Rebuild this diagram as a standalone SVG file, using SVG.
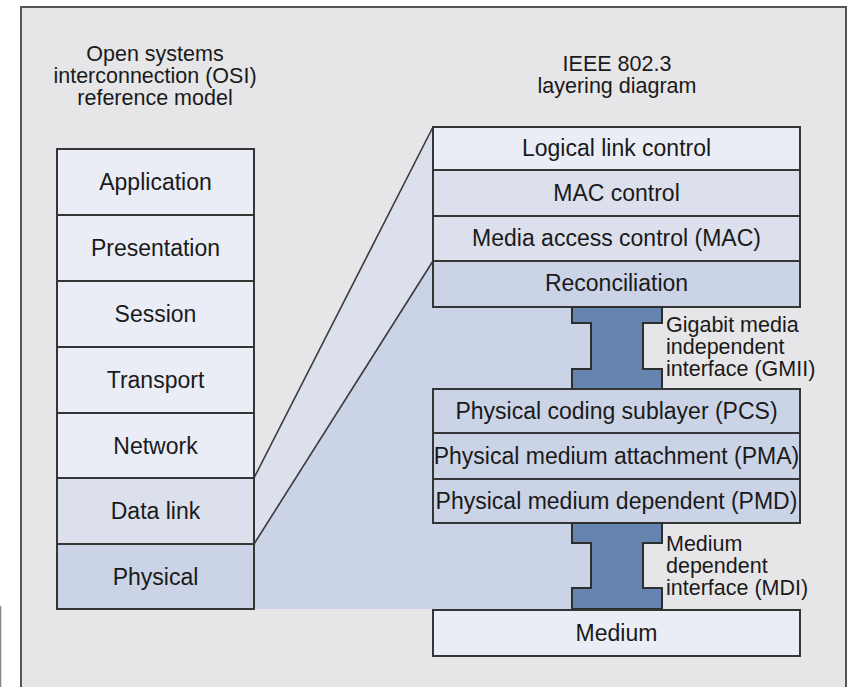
<svg xmlns="http://www.w3.org/2000/svg" width="848" height="687" viewBox="0 0 848 687">
<defs>
<style>
.t{font-family:"Liberation Sans",Arial,sans-serif;font-size:23px;fill:#1a1a1a;text-anchor:middle}
.h{font-family:"Liberation Sans",Arial,sans-serif;font-size:21.5px;fill:#1a1a1a;text-anchor:middle}
.l{font-family:"Liberation Sans",Arial,sans-serif;font-size:21.5px;fill:#1a1a1a;text-anchor:start}
.box{stroke:#353535;stroke-width:2}
.c1{fill:#eaedf6}
.c2{fill:#dbe0ec}
.c3{fill:#cbd3e6}
.beam{fill:#6684b0;stroke:#2e2e2e;stroke-width:2}
.edge{stroke:#3a3a3a;stroke-width:1.6;fill:none}
</style>
</defs>
<rect x="0" y="0" width="848" height="687" fill="#ffffff"/>
<rect x="21" y="7" width="825" height="690" fill="#e6e6e8" stroke="#555" stroke-width="2"/>
<line x1="0.5" y1="606" x2="0.5" y2="687" stroke="#888" stroke-width="1.5"/>

<g id="titles">
<text class="h" x="155" y="61">Open systems</text>
<text class="h" x="155" y="83">interconnection (OSI)</text>
<text class="h" x="155" y="105">reference model</text>
<text class="h" x="617" y="71">IEEE 802.3</text>
<text class="h" x="617" y="93">layering diagram</text>
</g>

<g id="connectors">
<polygon class="c3" points="254,544 433,261 617,261 617,609 254,609"/>
<polygon class="c2" points="254,478 433,127 433,261 254,544"/>
<line class="edge" x1="254" y1="478" x2="433" y2="127"/>
<line class="edge" x1="254" y1="544" x2="433" y2="261"/>
</g>

<g id="osi-application"><rect class="box c1" x="57" y="149" width="197" height="66"/><text class="t" x="155.5" y="190">Application</text></g>
<g id="osi-presentation"><rect class="box c1" x="57" y="215" width="197" height="66"/><text class="t" x="155.5" y="256">Presentation</text></g>
<g id="osi-session"><rect class="box c1" x="57" y="281" width="197" height="66"/><text class="t" x="155.5" y="322">Session</text></g>
<g id="osi-transport"><rect class="box c1" x="57" y="347" width="197" height="66"/><text class="t" x="155.5" y="388">Transport</text></g>
<g id="osi-network"><rect class="box c1" x="57" y="413" width="197" height="65"/><text class="t" x="155.5" y="454">Network</text></g>
<g id="osi-datalink"><rect class="box c2" x="57" y="478" width="197" height="66"/><text class="t" x="155.5" y="519">Data link</text></g>
<g id="osi-physical"><rect class="box c3" x="57" y="544" width="197" height="65"/><text class="t" x="155.5" y="585">Physical</text></g>

<g id="llc"><rect class="box c1" x="433" y="127" width="367" height="43"/><text class="t" x="616.5" y="156">Logical link control</text></g>
<g id="mac-control"><rect class="box c2" x="433" y="170" width="367" height="46"/><text class="t" x="616.5" y="201">MAC control</text></g>
<g id="mac"><rect class="box c2" x="433" y="216" width="367" height="45"/><text class="t" x="616.5" y="246">Media access control (MAC)</text></g>
<g id="reconciliation"><rect class="box c3" x="433" y="261" width="367" height="46"/><text class="t" x="616.5" y="291">Reconciliation</text></g>

<g id="gmii">
<path class="beam" d="M572,307 H662 V323 H643 V369 H662 V389 H572 V369 H591 V323 H572 Z"/>
<text class="l" x="666" y="332">Gigabit media</text>
<text class="l" x="666" y="354">independent</text>
<text class="l" x="666" y="376">interface (GMII)</text>
</g>

<g id="pcs"><rect class="box c3" x="433" y="389" width="367" height="44"/><text class="t" x="616.5" y="419">Physical coding sublayer (PCS)</text></g>
<g id="pma"><rect class="box c3" x="433" y="433" width="367" height="46"/><text class="t" x="616.5" y="464">Physical medium attachment (PMA)</text></g>
<g id="pmd"><rect class="box c3" x="433" y="479" width="367" height="44"/><text class="t" x="616.5" y="509">Physical medium dependent (PMD)</text></g>

<g id="mdi">
<path class="beam" d="M572,523 H662 V543 H643 V588 H662 V609 H572 V588 H591 V543 H572 Z"/>
<text class="l" x="666" y="551">Medium</text>
<text class="l" x="666" y="573">dependent</text>
<text class="l" x="666" y="595">interface (MDI)</text>
</g>

<g id="medium"><rect class="box c1" x="433" y="610" width="367" height="46"/><text class="t" x="616.5" y="641">Medium</text></g>
</svg>
